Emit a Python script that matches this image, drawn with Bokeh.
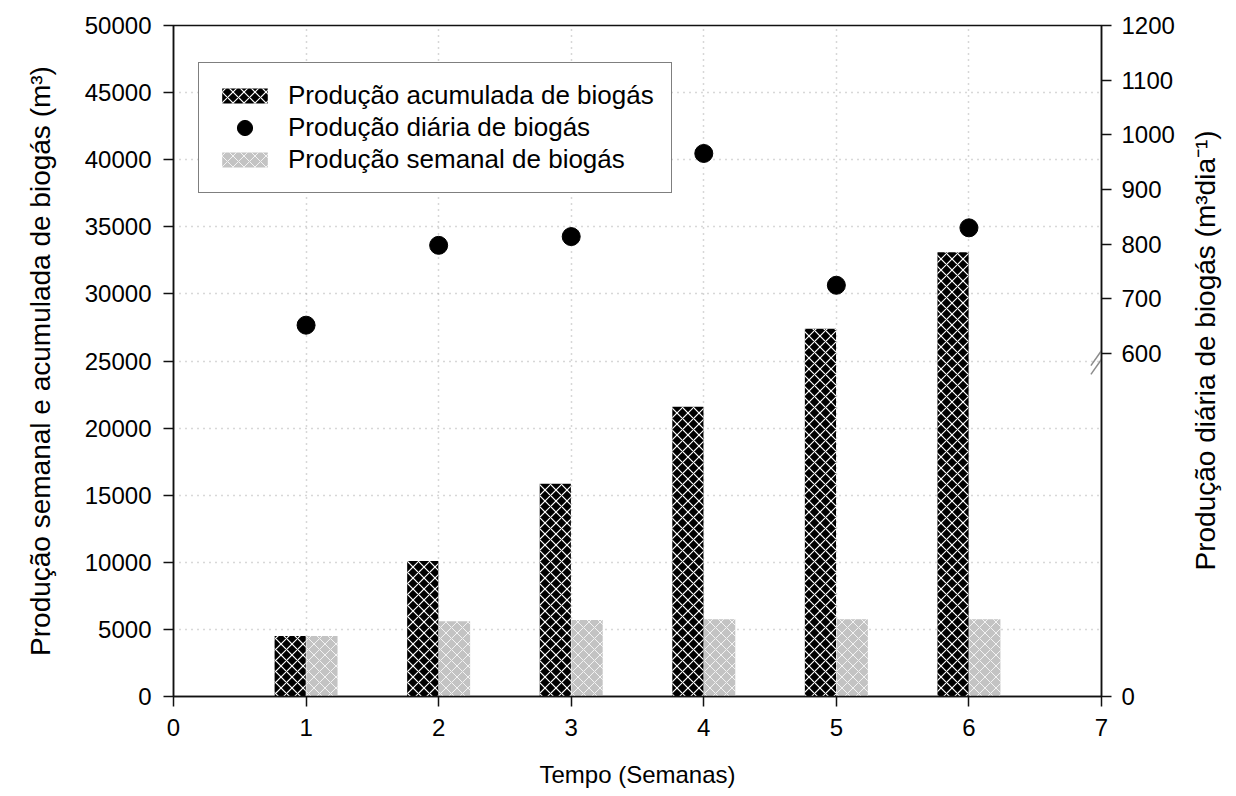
import math
from bokeh.plotting import figure
from bokeh.models import (Range1d, LinearAxis, FixedTicker, CustomJSTickFormatter,
                          Legend, LegendItem, ColumnDataSource)
from bokeh.transform import dodge
from bokeh.embed import file_html
from bokeh.resources import INLINE

# ---- data ----
semanas = [1, 2, 3, 4, 5, 6]
producao_acumulada = [4500, 10100, 15850, 21600, 27400, 33100]
producao_semanal = [4500, 5600, 5700, 5750, 5750, 5750]
producao_diaria = [652, 798, 814, 966, 725, 830]

x_ticks = [0, 1, 2, 3, 4, 5, 6, 7]
left_ticks = [0, 5000, 10000, 15000, 20000, 25000, 30000, 35000, 40000, 45000, 50000]
right_ticks = [600, 700, 800, 900, 1000, 1100, 1200]

FONT = "Liberation Sans"
RIGHT_ZERO = -27  # where the "0" of the broken right axis sits

src = ColumnDataSource(dict(semana=semanas, acum=producao_acumulada,
                            sem=producao_semanal, dia=producao_diaria))

p = figure(frame_width=928, frame_height=671,
           x_range=Range1d(0, 7), y_range=Range1d(0, 50000),
           output_backend="svg", toolbar_location=None,
           min_border_left=173, min_border_right=135,
           min_border_top=25, min_border_bottom=100)

p.extra_y_ranges = {"right": Range1d(RIGHT_ZERO, 1200)}

# grid
p.xgrid.ticker = FixedTicker(ticks=x_ticks[1:-1])
p.ygrid.ticker = FixedTicker(ticks=left_ticks[1:-1])
for g in (p.xgrid, p.ygrid):
    g.grid_line_color = "#b0b0b0"
    g.grid_line_dash = "1 5"
    g.grid_line_width = 1.5

p.outline_line_color = "#111111"
p.outline_line_width = 1.5

# bars
b1 = p.vbar(x=dodge("semana", -0.12, range=p.x_range), top="acum", width=0.235,
            source=src, fill_color="black", line_color=None,
            hatch_pattern="diagonal_cross", hatch_color="white",
            hatch_scale=11, hatch_weight=1.2)
b2 = p.vbar(x=dodge("semana", 0.12, range=p.x_range), top="sem", width=0.235,
            source=src, fill_color="#c3c3c3", line_color=None,
            hatch_pattern="diagonal_cross", hatch_color="white",
            hatch_scale=11, hatch_weight=1.0, hatch_alpha=0.8)
pts = p.ellipse(x="semana", y="dia", source=src, y_range_name="right",
                width=18, height=18, width_units="screen", height_units="screen",
                fill_color="black", line_color="black")

# axis break marks on the right axis (two short parallel strokes)
brk_src = ColumnDataSource(dict(x0=[6.92, 6.92], x1=[7.08, 7.08],
                                y0=[562, 578], y1=[617, 633]))
p.segment(x0="x0", y0="y0", x1="x1", y1="y1", source=brk_src,
          y_range_name="right", line_color="#8c8c8c", line_width=1.5)

# axes styling
def style_axis(ax, title_size="28px"):
    ax.axis_line_color = "#111111"
    ax.axis_line_width = 1.5
    ax.major_tick_line_color = "#111111"
    ax.major_tick_line_width = 1.5
    ax.major_tick_out = 10
    ax.major_tick_in = 0
    ax.minor_tick_line_color = None
    ax.major_label_text_font = FONT
    ax.major_label_text_font_size = "24px"
    ax.major_label_text_color = "black"
    ax.axis_label_text_font = FONT
    ax.axis_label_text_font_size = title_size
    ax.axis_label_text_font_style = "normal"
    ax.axis_label_text_color = "black"

xa = p.xaxis[0]
xa.ticker = FixedTicker(ticks=x_ticks)
xa.axis_label = "Tempo (Semanas)"
xa.major_label_standoff = 12
xa.axis_label_standoff = 22
style_axis(xa, "24px")

ya = p.yaxis[0]
ya.ticker = FixedTicker(ticks=left_ticks)
ya.axis_label = "Produção semanal e acumulada de biogás (m³)"
ya.major_label_standoff = 12
ya.axis_label_standoff = 26
style_axis(ya)

ra = LinearAxis(y_range_name="right",
                ticker=FixedTicker(ticks=[RIGHT_ZERO] + right_ticks),
                formatter=CustomJSTickFormatter(code="return tick < 600 ? '0' : tick.toFixed(0);"),
                axis_label="\u2003\u2003\u2003\u2003\u2002Produção diária de biogás (m³dia⁻¹)")
style_axis(ra)
ra.major_label_standoff = 10
ra.axis_label_standoff = 28
ra.axis_label_orientation = math.pi / 2
ra.axis_label_align = "start"
p.add_layout(ra, "right")

legend = Legend(items=[
    LegendItem(label="Produção acumulada de biogás", renderers=[b1]),
    LegendItem(label="Produção diária de biogás", renderers=[pts]),
    LegendItem(label="Produção semanal de biogás", renderers=[b2]),
], location=(25, 503))
legend.label_text_font = FONT
legend.label_text_font_size = "26px"
legend.label_text_color = "black"
legend.glyph_width = 57
legend.glyph_height = 19
legend.label_standoff = 15
legend.padding = 17
legend.spacing = 1
legend.margin = 0
legend.border_line_color = "black"
legend.border_line_width = 1.5
legend.background_fill_alpha = 1.0
p.add_layout(legend)

open("out.html", "w").write(file_html(p, INLINE))
